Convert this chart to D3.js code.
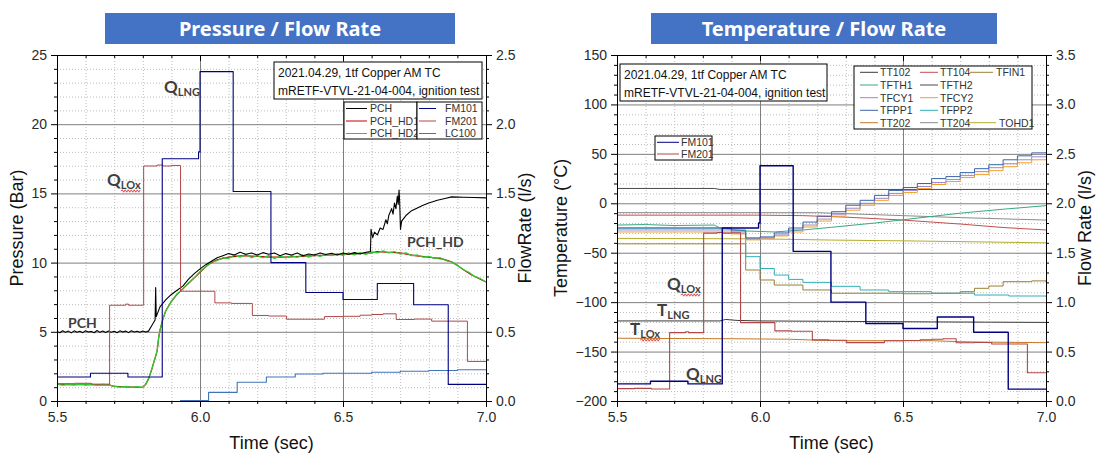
<!DOCTYPE html>
<html><head><meta charset="utf-8">
<script src="https://cdn.jsdelivr.net/npm/d3@7"></script>
<style>
body{margin:0;background:#fff}
svg text{font-family:"Liberation Sans",Arial,sans-serif}
</style>
</head><body>
<svg id="c" width="1104" height="467"></svg>
<script>
// ---------------- DATA ----------------
const timeMajor = [5.5, 6.0, 6.5, 7.0];
const timeMinor = [5.6,5.7,5.8,5.9,6.1,6.2,6.3,6.4,6.6,6.7,6.8,6.9];
const pressureMajor = [0,5,10,15,20,25];
const pressureMinor = [1,2,3,4,6,7,8,9,11,12,13,14,16,17,18,19,21,22,23,24];
const flowLeftMajor = [0,0.5,1.0,1.5,2.0,2.5];
const tempMajor = [-200,-150,-100,-50,0,50,100,150];
const tempMinor = [-190,-180,-170,-160,-140,-130,-120,-110,-90,-80,-70,-60,-40,-30,-20,-10,10,20,30,40,60,70,80,90,110,120,130,140];
const flowRightMajor = [0,0.5,1.0,1.5,2.0,2.5,3.0,3.5];

const titleLeft = "Pressure / Flow Rate";
const titleRight = "Temperature / Flow Rate";
const noteLines = ["2021.04.29, 1tf Copper AM TC", "mRETF-VTVL-21-04-004, ignition test"];
const noteLinesRight = ["2021.04.29,  1tf Copper AM TC", "mRETF-VTVL-21-04-004, ignition test"];

// flow rates (l/s), step series [time, value]
const fm101 = [[5.5,0.173],[5.617,0.20],[5.748,0.173],[5.868,1.75],[5.995,1.80],[6.0,2.38],[6.116,1.514],[6.248,1.0],[6.37,0.784],[6.5,0.733],[6.62,0.849],[6.747,0.695],[6.868,0.12],[7.0,0.12]];
const fm201 = [[5.5,0.125],[5.56,0.128],[5.62,0.122],[5.684,0.692],[5.74,0.70],[5.75,0.692],[5.803,1.698],[5.85,1.705],[5.87,1.698],[5.90,1.702],[5.932,0.793],[6.052,0.709],[6.11,0.705],[6.183,0.618],[6.24,0.614],[6.303,0.591],[6.435,0.61],[6.50,0.612],[6.56,0.62],[6.60,0.625],[6.64,0.63],[6.686,0.589],[6.75,0.592],[6.81,0.577],[6.935,0.286],[7.0,0.286]];
const lc100 = [[5.93,0.003],[6.03,0.0625],[6.13,0.135],[6.232,0.173],[6.333,0.195],[6.43,0.2],[6.5,0.201],[6.6,0.208],[6.7,0.215],[6.8,0.22],[6.9,0.226],[7.0,0.23]];

// pressures (bar)
const pch = [[5.50,5.02],[5.51,4.93],[5.52,5.08],[5.53,4.96],[5.54,5.05],[5.55,4.92],[5.56,5.07],[5.57,4.97],[5.58,5.04],[5.59,4.94],[5.60,5.08],[5.61,4.98],[5.62,5.03],[5.63,4.93],[5.64,5.09],[5.65,4.96],[5.66,5.05],[5.67,4.95],[5.68,5.06],[5.69,4.97],[5.70,5.04],[5.71,4.93],[5.72,5.07],[5.73,4.98],[5.74,5.05],[5.75,4.94],[5.76,5.08],[5.77,4.99],[5.78,5.04],[5.79,4.96],[5.80,5.06],[5.81,4.98],[5.82,5.05],[5.83,5.4],[5.843,5.85],[5.845,8.2],[5.847,6.1],[5.86,6.8],[5.88,7.3],[5.90,7.7],[5.92,8.0],[5.94,8.3],[5.96,8.8],[5.98,9.2],[6.00,9.55],[6.02,9.85],[6.04,10.1],[6.06,10.35],[6.08,10.5],[6.10,10.65],[6.12,10.55],[6.14,10.75],[6.16,10.6],[6.18,10.7],[6.20,10.55],[6.22,10.72],[6.24,10.6],[6.26,10.7],[6.28,10.5],[6.30,10.65],[6.32,10.55],[6.34,10.7],[6.36,10.5],[6.38,10.62],[6.40,10.55],[6.42,10.7],[6.44,10.58],[6.46,10.68],[6.48,10.55],[6.50,10.7],[6.52,10.6],[6.54,10.72],[6.56,10.62],[6.58,10.75],[6.596,10.8],[6.598,12.4],[6.604,11.8],[6.61,12.2],[6.62,12.0],[6.63,12.5],[6.64,12.4],[6.65,13.1],[6.655,12.8],[6.66,13.4],[6.67,13.9],[6.675,13.5],[6.68,14.3],[6.685,13.9],[6.69,14.8],[6.693,14.2],[6.696,15.25],[6.698,14.5],[6.701,12.4],[6.705,13.0],[6.72,13.4],[6.74,13.75],[6.76,13.95],[6.78,14.15],[6.80,14.3],[6.83,14.5],[6.86,14.65],[6.88,14.75],[6.92,14.72],[6.96,14.7],[7.0,14.68]];
const pchHd1 = [[5.50,1.2],[5.55,1.18],[5.60,1.2],[5.65,1.16],[5.68,1.18],[5.70,1.05],[5.74,1.02],[5.78,0.99],[5.80,1.0],[5.81,1.2],[5.82,1.6],[5.83,2.2],[5.84,2.9],[5.85,3.6],[5.855,4.5],[5.86,5.1],[5.87,5.9],[5.88,6.5],[5.90,7.2],[5.92,7.7],[5.94,8.1],[5.96,8.5],[5.98,8.9],[6.00,9.3],[6.02,9.7],[6.04,10.0],[6.06,10.2],[6.08,10.3],[6.10,10.4],[6.15,10.5],[6.20,10.45],[6.25,10.4],[6.30,10.4],[6.35,10.45],[6.40,10.5],[6.45,10.55],[6.50,10.6],[6.55,10.65],[6.60,10.7],[6.62,10.8],[6.65,10.75],[6.70,10.7],[6.75,10.5],[6.80,10.4],[6.85,10.25],[6.88,10.05],[6.90,9.8],[6.92,9.5],[6.95,9.1],[6.98,8.8],[7.0,8.6]];
const pchHd2 = [[5.50,1.22],[5.52,1.15],[5.54,1.21],[5.56,1.16],[5.58,1.22],[5.60,1.17],[5.62,1.21],[5.64,1.15],[5.66,1.2],[5.68,1.16],[5.70,1.06],[5.72,1.0],[5.74,1.05],[5.76,0.98],[5.78,1.03],[5.80,0.99],[5.81,1.2],[5.82,1.6],[5.83,2.2],[5.84,2.9],[5.85,3.6],[5.855,4.5],[5.86,5.1],[5.87,5.9],[5.88,6.5],[5.90,7.2],[5.92,7.75],[5.94,8.1],[5.96,8.55],[5.98,8.9],[6.00,9.35],[6.02,9.7],[6.04,10.05],[6.06,10.15],[6.08,10.35],[6.10,10.3],[6.12,10.55],[6.14,10.4],[6.16,10.6],[6.18,10.35],[6.20,10.5],[6.22,10.35],[6.24,10.5],[6.26,10.3],[6.28,10.45],[6.30,10.35],[6.32,10.5],[6.34,10.38],[6.36,10.55],[6.38,10.4],[6.40,10.58],[6.42,10.45],[6.44,10.6],[6.46,10.5],[6.48,10.65],[6.50,10.52],[6.52,10.7],[6.54,10.55],[6.56,10.72],[6.58,10.6],[6.60,10.78],[6.62,10.7],[6.64,10.85],[6.66,10.7],[6.68,10.8],[6.70,10.62],[6.72,10.7],[6.74,10.5],[6.76,10.55],[6.78,10.4],[6.80,10.45],[6.82,10.3],[6.84,10.35],[6.86,10.15],[6.88,10.05],[6.90,9.8],[6.92,9.5],[6.94,9.3],[6.96,9.0],[6.98,8.85],[7.0,8.6]];

// temperatures (deg C)
const tt102 = [[5.5,-119],[5.86,-119],[5.88,-117.5],[5.92,-118.5],[6.0,-119],[6.3,-119.5],[6.6,-120],[7.0,-120.5]];
const tt104 = [[5.5,-12],[6.0,-12],[6.15,-12.5],[6.3,-14],[6.5,-17],[6.7,-21],[6.85,-24.5],[7.0,-27]];
const tfin1 = [[5.5,-41],[5.93,-41],[5.95,-67.5],[6.0,-77.6],[6.05,-82.7],[6.15,-87.7],[6.25,-91],[6.5,-91.5],[6.6,-91],[6.7,-89.4],[6.75,-86],[6.8,-83.7],[6.85,-79.3],[6.95,-78.5],[7.0,-80]];
const tfth1 = [[5.5,-22],[5.6,-21.5],[5.7,-22.5],[5.84,-22],[5.86,-25],[5.95,-28],[6.05,-29],[6.15,-27],[6.25,-24.3],[6.4,-20],[6.55,-15],[6.7,-10],[6.85,-6],[7.0,-2.4]];
const tfth2 = [[5.5,15],[5.84,15],[5.86,14],[7.0,14]];
const tfcy1 = [[5.5,-27],[5.9,-30],[5.95,-36],[6.0,-35],[6.05,-32],[6.1,-27],[6.15,-22],[6.2,-16],[6.25,-11],[6.3,-5],[6.35,0],[6.4,5],[6.45,10],[6.5,13],[6.55,17],[6.6,21],[6.65,24],[6.7,28],[6.75,32],[6.8,36],[6.85,40],[6.9,44],[6.95,47],[7.0,47.5]];
const tfcy2 = [[5.5,-29],[5.9,-31],[5.95,-37],[6.0,-36],[6.05,-33],[6.1,-29],[6.15,-24],[6.2,-18],[6.25,-13],[6.3,-7],[6.35,-2],[6.4,3],[6.45,8],[6.5,11],[6.55,15],[6.6,19],[6.65,22],[6.7,26],[6.75,29],[6.8,33],[6.85,37],[6.9,41],[6.95,44],[7.0,44.5]];
const tfpp1 = [[5.5,-25],[5.9,-28],[5.95,-35],[6.0,-34],[6.05,-30],[6.1,-25],[6.15,-19],[6.2,-13],[6.25,-8.5],[6.3,-2],[6.35,3],[6.4,8],[6.45,13],[6.5,16],[6.55,20],[6.6,25],[6.65,27],[6.7,31],[6.75,35],[6.8,39],[6.85,44],[6.9,48],[6.95,51],[7.0,52]];
const tfpp2 = [[5.5,-25],[5.9,-27],[5.95,-54],[6.0,-66],[6.05,-72.6],[6.1,-77],[6.15,-80],[6.25,-84],[6.35,-87.7],[6.45,-89.4],[6.6,-91],[6.75,-92.8],[6.87,-93.8],[7.0,-94.5]];
const tt202 = [[5.5,-136.5],[5.7,-136.8],[5.9,-137],[6.1,-137.5],[6.2,-138.5],[6.3,-139],[6.5,-139],[6.6,-139],[6.7,-140],[6.8,-140.5],[7.0,-141]];
const tt204 = [[5.5,-9.5],[6.2,-9.5],[6.3,-10.5],[6.5,-12.5],[6.7,-14.5],[7.0,-17]];
const tohd1 = [[5.5,-35.5],[6.0,-36],[6.25,-37.2],[6.5,-38],[6.75,-39],[7.0,-40]];

// series colours
const C = {PCH:"#000000",PCH_HD1:"#c00000",PCH_HD2:"#2ecc2e",FM101:"#000080",FM201:"#b04848",LC100:"#3f74b8",
  TT102:"#3a3a3a",TT104:"#c0504d",TFIN1:"#9a8030",TFTH1:"#3aa882",TFTH2:"#4a4a4a",TFCY1:"#9c88c8",TFCY2:"#f0a028",
  TFPP1:"#3c64a8",TFPP2:"#2fb0b8",TT202:"#c87828",TT204:"#8a8a8a",TOHD1:"#b4ac28"};

// ---------------- DRAW ----------------
const svg = d3.select("#c");
const TOP = 55, BOT = 401;

function banner(x, w, text){
  svg.append("rect").attr("x",x).attr("y",13).attr("width",w).attr("height",31).attr("fill","#4472c4");
  svg.append("text").attr("x",x+w/2).attr("y",35.5).attr("text-anchor","middle")
    .style("font-family","'Noto Sans',sans-serif").style("font-weight","700").style("font-size","20px")
    .attr("fill","#fff").text(text);
}

function frame(o){
  const g = svg.append("g");
  const x = d3.scaleLinear().domain([5.5,7.0]).range([o.x0,o.x1]);
  const yL = d3.scaleLinear().domain(o.yL).range([BOT,TOP]);
  const yR = d3.scaleLinear().domain(o.yR).range([BOT,TOP]);
  const h = BOT-TOP, w = o.x1-o.x0;
  const styleGrid = (sel, col, dash) => { sel.select(".domain").remove(); sel.selectAll("line").attr("stroke",col).attr("stroke-dasharray",dash).attr("stroke-width",1); };
  g.append("g").attr("transform",`translate(0,${BOT})`).call(d3.axisBottom(x).tickValues(timeMinor).tickSize(-h).tickFormat("")).call(s=>styleGrid(s,"#bdbdbd","1,2"));
  g.append("g").attr("transform",`translate(${o.x0},0)`).call(d3.axisLeft(yL).tickValues(o.yLMinor).tickSize(-w).tickFormat("")).call(s=>styleGrid(s,"#bdbdbd","1,2"));
  g.append("g").attr("transform",`translate(0,${BOT})`).call(d3.axisBottom(x).tickValues(timeMajor.slice(1,-1)).tickSize(-h).tickFormat("")).call(s=>styleGrid(s,"#7f7f7f",null));
  g.append("g").attr("transform",`translate(${o.x0},0)`).call(d3.axisLeft(yL).tickValues(o.yLMajor.slice(1,-1)).tickSize(-w).tickFormat("")).call(s=>styleGrid(s,"#7f7f7f",null));
  return {g,x,yL,yR};
}

function axes(f, o){
  const {x,yL,yR} = f;
  const g = svg.append("g");
  const st = s => { s.selectAll("text").style("font-size","14px").attr("fill","#2a2a2a"); s.selectAll("line").attr("stroke","#000"); s.select(".domain").attr("stroke","#000"); };
  const nodom = s => { s.select(".domain").remove(); s.selectAll("line").attr("stroke","#000"); };
  g.append("g").attr("transform",`translate(0,${BOT})`).call(d3.axisBottom(x).tickValues(timeMinor).tickSize(3).tickFormat("")).call(nodom);
  g.append("g").attr("transform",`translate(0,${BOT})`).call(d3.axisBottom(x).tickValues(timeMajor).tickSize(6).tickSizeOuter(0).tickPadding(5).tickFormat(d3.format(".1f"))).call(st);
  g.append("g").attr("transform",`translate(0,${TOP})`).call(d3.axisBottom(x).tickValues(timeMinor).tickSize(3).tickFormat("")).call(nodom);
  g.append("g").attr("transform",`translate(0,${TOP})`).call(d3.axisBottom(x).tickValues(timeMajor).tickSize(6).tickSizeOuter(0).tickFormat("")).call(st);
  g.append("g").attr("transform",`translate(${o.x0},0)`).call(d3.axisLeft(yL).tickValues(o.yLMinor).tickSize(3).tickFormat("")).call(nodom);
  g.append("g").attr("transform",`translate(${o.x0},0)`).call(d3.axisLeft(yL).tickValues(o.yLMajor).tickSize(6).tickSizeOuter(0).tickPadding(4).tickFormat(o.yLFmt)).call(st);
  g.append("g").attr("transform",`translate(${o.x1},0)`).call(d3.axisRight(yR).tickValues(o.yRMinor).tickSize(3).tickFormat("")).call(nodom);
  g.append("g").attr("transform",`translate(${o.x1},0)`).call(d3.axisRight(yR).tickValues(o.yRMajor).tickSize(6).tickSizeOuter(0).tickPadding(4).tickFormat(d3.format(".1f"))).call(st);
  const cx = (o.x0+o.x1)/2, cy = (TOP+BOT)/2;
  g.append("text").attr("x",cx).attr("y",449).attr("text-anchor","middle").style("font-size","18px").attr("fill","#111").text("Time (sec)");
  g.append("text").attr("transform",`translate(${o.ltx},${cy}) rotate(-90)`).attr("text-anchor","middle").style("font-size","18px").attr("fill","#111").text(o.lTitle);
  g.append("text").attr("transform",`translate(${o.rtx},${cy}) rotate(-90)`).attr("text-anchor","middle").style("font-size","18px").attr("fill","#111").text(o.rTitle);
}

function drawLine(g, data, x, y, color, step, sw){
  const ln = d3.line().x(d=>x(d[0])).y(d=>y(d[1])).curve(step ? d3.curveStepAfter : d3.curveLinear);
  g.append("path").datum(data).attr("d",ln).attr("fill","none").attr("stroke",color).attr("stroke-width",sw||1).attr("stroke-linejoin","round");
}

function labelQ(x, y, main, sub, squiggle){
  const t = svg.append("text").attr("x",x).attr("y",y).attr("fill","#3f3f3f")
    .style("font-family","Lato,'Open Sans',sans-serif").style("font-weight","700").style("font-size","17px");
  t.append("tspan").text(main);
  t.append("tspan").attr("dy",3).style("font-size","11px").text(sub);
  if (squiggle){
    const bb = t.node().getBBox();
    const mainW = t.node().getSubStringLength(0, main.length);
    const x0 = x + mainW, x1 = bb.x + bb.width, yy = y + 5;
    let d = `M${x0},${yy}`; let up = true;
    for (let xx = x0 + 1.5; xx <= x1; xx += 1.5){ d += ` L${xx},${yy + (up?-1.2:1.2)}`; up = !up; }
    svg.append("path").attr("d",d).attr("fill","none").attr("stroke","#e03030").attr("stroke-width",0.9);
  }
}
function labelPlain(x,y,txt){
  svg.append("text").attr("x",x).attr("y",y).attr("fill","#3f3f3f")
    .style("font-family","Lato,'Open Sans',sans-serif").style("font-weight","700").style("font-size","14px").text(txt);
}

function noteBox(x,y,w,h,lines){
  svg.append("rect").attr("x",x).attr("y",y).attr("width",w).attr("height",h).attr("fill","#fff").attr("stroke","#000").attr("stroke-width",1);
  lines.forEach((l,i)=> svg.append("text").attr("x",x+4).attr("y",y+15+i*18).style("font-size","12px").attr("fill","#111").text(l));
}
function legendBox(x,y,w,h,entries){
  svg.append("rect").attr("x",x).attr("y",y).attr("width",w).attr("height",h).attr("fill","#fff").attr("stroke","#000").attr("stroke-width",1);
  entries.forEach(e=>{
    svg.append("line").attr("x1",e[1]).attr("x2",e[2]).attr("y1",e[4]).attr("y2",e[4]).attr("stroke",C[e[0]]).attr("stroke-width",1);
    svg.append("text").attr("x",e[3]).attr("y",e[4]+3.8).style("font-size","10.5px").attr("fill","#333").text(e[0]);
  });
}

// ----- LEFT CHART -----
banner(105, 350, titleLeft);
const oL = {x0:57,x1:486,yL:[0,25],yR:[0,2.5],yLMajor:pressureMajor,yLMinor:pressureMinor,
  yRMajor:flowLeftMajor,yRMinor:pressureMinor.map(v=>v/10),yLFmt:d3.format("d"),
  ltx:23,rtx:531,lTitle:"Pressure (Bar)",rTitle:"FlowRate (l/s)"};
const fL = frame(oL);
drawLine(fL.g, pchHd1, fL.x, fL.yL, C.PCH_HD1, false, 1.2);
drawLine(fL.g, pchHd2, fL.x, fL.yL, C.PCH_HD2, false, 1.3);
drawLine(fL.g, pch, fL.x, fL.yL, C.PCH, false, 1.1);
drawLine(fL.g, lc100, fL.x, fL.yR, C.LC100, true, 1.1);
drawLine(fL.g, fm201, fL.x, fL.yR, C.FM201, true, 1);
drawLine(fL.g, fm101, fL.x, fL.yR, C.FM101, true, 1.1);
axes(fL, oL);
noteBox(274,62,208,37,noteLines);
legendBox(344,102,73,37,[["PCH",346,367,370,108.5],["PCH_HD1",346,367,370,121],["PCH_HD2",346,367,370,133.5]]);
legendBox(417,102,65,37,[["FM101",419,436,445,108.5],["FM201",419,436,445,121],["LC100",419,436,445,133.5]]);
labelQ(164,93,"Q","LNG",false);
labelQ(107,186,"Q","LOx",true);
labelPlain(68,328,"PCH");
labelPlain(407,247,"PCH_HD");

// ----- RIGHT CHART -----
banner(651, 346, titleRight);
const oR = {x0:617,x1:1046,yL:[-200,150],yR:[0,3.5],yLMajor:tempMajor,yLMinor:tempMinor,
  yRMajor:flowRightMajor,yRMinor:tempMinor.map(v=>(v+200)/100),yLFmt:d3.format("d"),
  ltx:567,rtx:1091,lTitle:"Temperature (°C)",rTitle:"Flow Rate (l/s)"};
const fR = frame(oR);
const tempData = {TT102:tt102,TT104:tt104,TFIN1:tfin1,TFTH1:tfth1,TFTH2:tfth2,TFCY1:tfcy1,TFCY2:tfcy2,TFPP1:tfpp1,TFPP2:tfpp2,TT202:tt202,TT204:tt204,TOHD1:tohd1};
const stepped = {TFCY1:true,TFCY2:true,TFPP1:true,TFPP2:true,TFIN1:true};
["TFTH2","TT204","TT104","TOHD1","TFTH1","TFIN1","TFPP2","TFCY2","TFCY1","TFPP1","TT102","TT202"].forEach(n=>
  drawLine(fR.g, tempData[n], fR.x, fR.yL, C[n], !!stepped[n], 1));
drawLine(fR.g, fm201, fR.x, fR.yR, C.FM201, true, 1.1);
drawLine(fR.g, fm101, fR.x, fR.yR, C.FM101, true, 1.4);
axes(fR, oR);
noteBox(620,64,207,37,noteLinesRight);
const rows=[72.3,85,97.7,110.3,122.7];
legendBox(854,66,178,63,[
  ["TT102",860,878,880,rows[0]],["TT104",920,938,940,rows[0]],["TFIN1",970,993,996,rows[0]],
  ["TFTH1",860,878,880,rows[1]],["TFTH2",920,938,940,rows[1]],
  ["TFCY1",860,878,880,rows[2]],["TFCY2",920,938,940,rows[2]],
  ["TFPP1",860,878,880,rows[3]],["TFPP2",920,938,940,rows[3]],
  ["TT202",860,878,880,rows[4]],["TT204",920,938,940,rows[4]],["TOHD1",967,996,999,rows[4]]]);
legendBox(655,136,57,24,[["FM101",657,679,681,142.3],["FM201",657,679,681,154]]);
labelQ(667,290,"Q","LOx",true);
labelQ(657,316,"T","LNG",false);
labelQ(630,335,"T","LOx",true);
labelQ(686,380,"Q","LNG",false);
</script>
</body></html>
